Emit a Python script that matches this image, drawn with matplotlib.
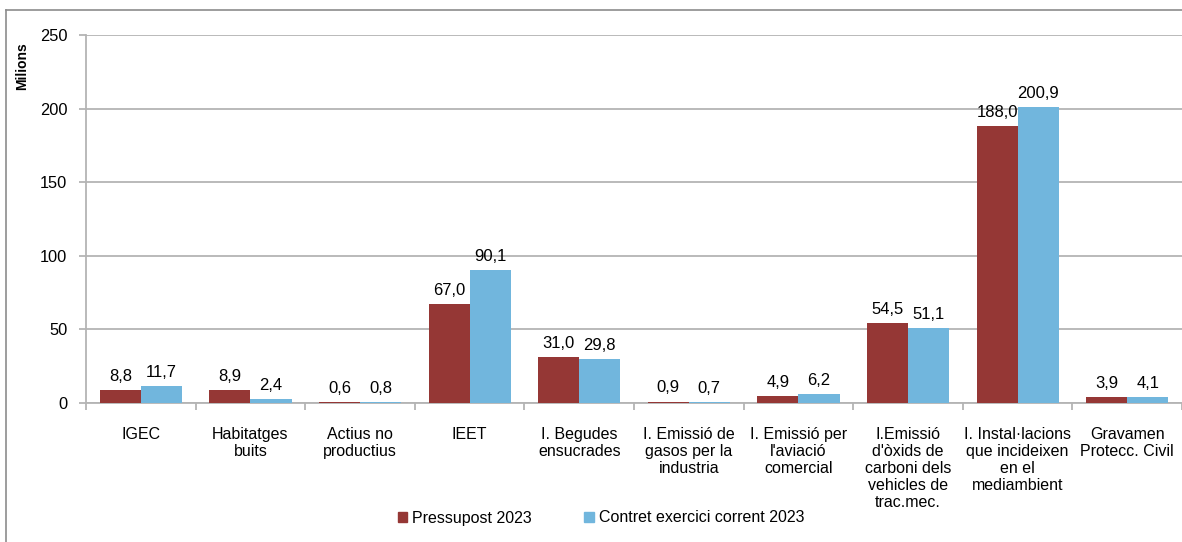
import matplotlib
matplotlib.use("Agg")
import matplotlib.pyplot as plt
import numpy as np
from matplotlib.lines import Line2D
from matplotlib.patches import Patch

categories = [
    "IGEC",
    "Habitatges\nbuits",
    "Actius no\nproductius",
    "IEET",
    "I. Begudes\nensucrades",
    "I. Emissió de\ngasos per la\nindustria",
    "I. Emissió per\nl'aviació\ncomercial",
    "I.Emissió\nd'òxids de\ncarboni dels\nvehicles de\ntrac.mec.",
    "I. Instal·lacions\nque incideixen\nen el\nmediambient",
    "Gravamen\nProtecc. Civil",
]
pressupost = [8.8, 8.9, 0.6, 67.0, 31.0, 0.9, 4.9, 54.5, 188.0, 3.9]
contret = [11.7, 2.4, 0.8, 90.1, 29.8, 0.7, 6.2, 51.1, 200.9, 4.1]
series_names = ["Pressupost 2023", "Contret exercici corrent 2023"]
yticks = [0, 50, 100, 150, 200, 250]

plt.rcParams['font.family'] = ['Liberation Sans', 'DejaVu Sans']

W, H = 1182, 542
fig = plt.figure(figsize=(W / 100, H / 100), dpi=100)
ax = fig.add_axes([86 / W, 1 - 403 / H, (1182 - 86) / W, (403 - 35) / H])

red = "#953735"
blue = "#71B6DD"
grid_c = "#B4B4B4"

x = np.arange(len(categories))
w = 0.375
b1 = ax.bar(x - w / 2, pressupost, w, color=red, zorder=3, label=series_names[0])
b2 = ax.bar(x + w / 2, contret, w, color=blue, zorder=3, label=series_names[1])

def fmt(v):
    return f"{v:.1f}".replace(".", ",")

for bars, vals in ((b1, pressupost), (b2, contret)):
    for r, v in zip(bars, vals):
        ax.annotate(fmt(v), (r.get_x() + r.get_width() / 2, v), xytext=(0, 4.5),
                    textcoords="offset points", ha="center", va="bottom",
                    fontsize=12, color="black", zorder=4)

ax.set_xlim(-0.5, len(categories) - 0.5)
ax.set_ylim(0, 250)
ax.set_yticks(yticks)
ax.set_yticklabels([str(t) for t in yticks], fontsize=11.8)
ax.yaxis.grid(True, color=grid_c, linewidth=1.3, zorder=0)
ax.set_axisbelow(True)

ax.set_xticks(x)
ax.set_xticklabels(categories, fontsize=11.5, linespacing=1.17)
ax.set_xticks(np.arange(-0.5, len(categories), 1.0), minor=True)
ax.tick_params(axis="x", which="major", length=0, pad=17.5)
ax.tick_params(axis="x", which="minor", length=5, color=grid_c, width=1.3)
ax.tick_params(axis="y", length=5, color=grid_c, width=1.3, pad=8.5)

for s in ("top", "right"):
    ax.spines[s].set_visible(False)
for s in ("left", "bottom"):
    ax.spines[s].set_color(grid_c)
    ax.spines[s].set_linewidth(1.3)

fig.text(22 / W, 1 - 66 / H, "Milions", rotation=90, fontsize=10,
         fontweight="bold", ha="center", va="center")

# chart frame
fig.add_artist(Line2D([5.5 / W, 5.5 / W], [0, 1 - 9.5 / H], transform=fig.transFigure,
                      color="#8C8C8C", linewidth=1.2))
fig.add_artist(Line2D([5.5 / W, 1], [1 - 9.5 / H, 1 - 9.5 / H], transform=fig.transFigure,
                      color="#8C8C8C", linewidth=1.2))

handles = [Patch(color=red), Patch(color=blue)]
fig.legend(handles, series_names, loc="center", bbox_to_anchor=(601 / W, 1 - 518 / H),
           ncol=2, frameon=False, fontsize=11.5, handlelength=0.6, handleheight=0.6,
           handletextpad=0.3, columnspacing=3.3)

fig.savefig("out.png", dpi=100)
